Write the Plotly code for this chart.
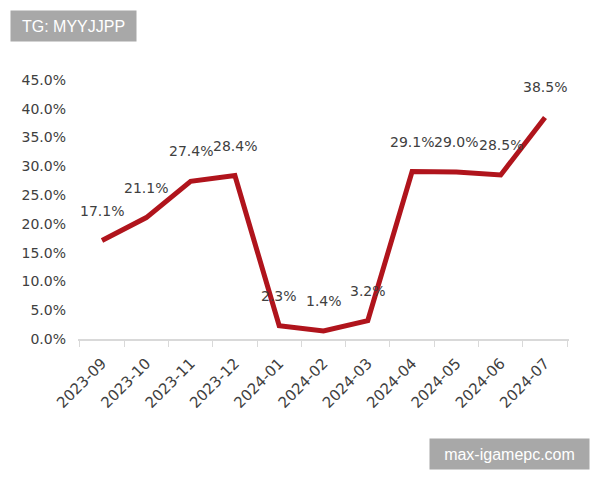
import plotly.graph_objects as go

# Monthly values (%)
months = ['2023-09', '2023-10', '2023-11', '2023-12', '2024-01', '2024-02',
          '2024-03', '2024-04', '2024-05', '2024-06', '2024-07']
values = [17.1, 21.1, 27.4, 28.4, 2.3, 1.4, 3.2, 29.1, 29.0, 28.5, 38.5]
y_ticks = [0, 5, 10, 15, 20, 25, 30, 35, 40, 45]

text_color = '#404040'
font_family = 'DejaVu Sans, sans-serif'
wm_font = dict(size=16, color='white', family='Liberation Sans, Arial, sans-serif')

# plot area in page pixels (used to place the watermark boxes)
x0, x1, y0, y1 = 78, 569, 80, 339
pw, ph = x1 - x0, y1 - y0

fig = go.Figure()

fig.add_trace(
    go.Scatter(
        x=months,
        y=values,
        mode='lines',
        line=dict(color='#B0141C', width=5),
        hoverinfo='skip',
    )
)

# Data labels above each point
annotations = [
    dict(
        x=m, y=v, xref='x', yref='y',
        text=f'{v:.1f}%',
        showarrow=False,
        yshift=30,
        font=dict(size=14, color=text_color, family=font_family),
    )
    for m, v in zip(months, values)
]

# Watermark boxes
annotations.append(dict(
    x=(10 - x0) / pw, y=1 + (y0 - 10) / ph, xref='paper', yref='paper',
    xanchor='left', yanchor='top',
    text='TG: MYYJJPP', showarrow=False, font=wm_font,
    bgcolor='#a8a8a8', borderpad=4, width=117, height=22,
))
annotations.append(dict(
    x=(590 - x0) / pw, y=-(470 - y1) / ph, xref='paper', yref='paper',
    xanchor='right', yanchor='bottom',
    text='max-igamepc.com', showarrow=False, font=wm_font,
    bgcolor='#a8a8a8', borderpad=4, width=151, height=22,
))

fig.update_xaxes(
    type='category',
    tickson='boundaries',
    ticks='outside',
    ticklen=6,
    tickcolor='#d9d9d9',
    showline=True,
    linecolor='#d9d9d9',
    linewidth=1.5,
    showgrid=False,
    tickangle=-45,
    ticklabelstandoff=8,
    tickfont=dict(size=15, color=text_color, family=font_family),
)

fig.update_yaxes(
    range=[0, 45],
    tickvals=y_ticks,
    ticktext=[f'{t:.1f}%' for t in y_ticks],
    showgrid=False,
    showline=False,
    zeroline=False,
    ticks='',
    ticklabelstandoff=11,
    tickfont=dict(size=14, color=text_color, family=font_family),
)

fig.update_layout(
    annotations=annotations,
    width=600,
    height=480,
    margin=dict(l=x0 - 8, r=608 - x1, t=y0 - 8, b=488 - y1),
    plot_bgcolor='white',
    paper_bgcolor='white',
    showlegend=False,
)

fig.write_html('out.html')
